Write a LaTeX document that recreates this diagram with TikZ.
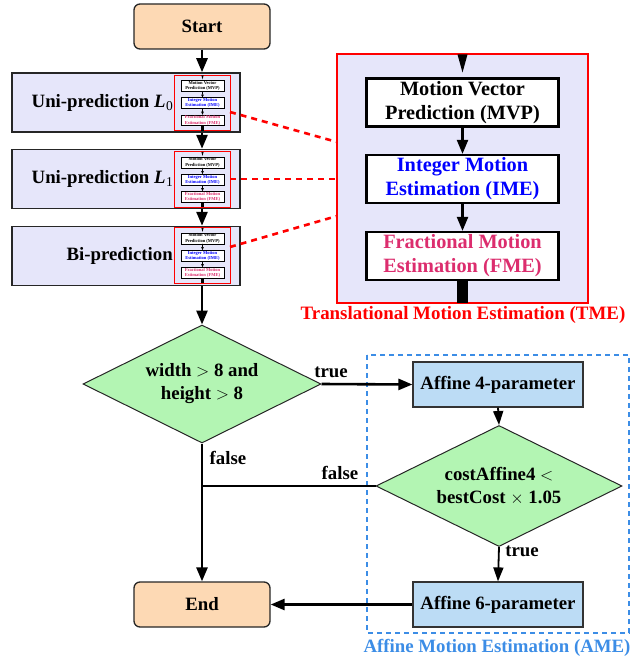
\documentclass[tikz,border=0pt]{standalone}
\usepackage{fontspec}
\setmainfont{Liberation Serif}
\usetikzlibrary{arrows.meta,shapes.geometric,calc}

\definecolor{lav}{HTML}{E6E6FA}
\definecolor{peach}{HTML}{FDD9B4}
\definecolor{mint}{HTML}{B3F5B3}
\definecolor{skyfill}{HTML}{BCDCF5}
\definecolor{amecol}{HTML}{3C8DE6}
\definecolor{imeblue}{HTML}{0000FF}
\definecolor{fmepink}{HTML}{DC2D6E}

\tikzset{
  txt/.style={font=\fontsize{18.8}{23}\selectfont\bfseries, align=center},
  terminal/.style={txt, draw=black!85, line width=1.3pt, fill=peach, rounded corners=6pt,
    minimum width=136pt, minimum height=45pt, inner sep=0pt},
  predbox/.style={draw=black!85, line width=1.5pt, fill=lav, minimum width=228pt,
    minimum height=59pt, inner sep=0pt},
  affbox/.style={txt, draw=black!80, line width=1.2pt, fill=skyfill,
    minimum width=170pt, minimum height=45pt, inner sep=0pt},
  decision/.style={txt, diamond, draw=black!85, line width=1pt, fill=mint, inner sep=0pt,
    shape aspect=2},
  mainarrow/.style={line width=2.6pt, -{Triangle[length=14pt,width=11pt]}},
  mainline/.style={line width=2.6pt},
  thinarrow/.style={line width=1.8pt, -{Triangle[length=14pt,width=10pt]}},
  tmeframe/.style={draw=red, fill=lav, inner sep=0pt},
  tmebox/.style={draw=black, fill=white, minimum width=192pt, minimum height=48pt,
    inner sep=0pt, align=center, font=\fontsize{20.3}{24}\selectfont\bfseries},
  zoomlink/.style={draw=red, line width=2.6pt, dash pattern=on 6pt off 5pt},
}

% Translational motion estimation panel, centred at the local origin.
% #1 name prefix, #2 box line width, #3 frame line width, #4 arrow line width, #5 tip scale
\newcommand\tmepanel[5]{%
  \node[tmeframe, line width=#3, minimum width=251pt, minimum height=249pt] (#1frame) at (0,0) {};
  \fill (-5,-124) -- (5,-124) -- (0,-106) -- cycle;
  \node[tmebox, line width=#2] (#1mvp) at (0,-76) {Motion Vector\\Prediction (MVP)};
  \node[tmebox, line width=#2, text=imeblue] (#1ime) at (0,0.5) {Integer Motion\\Estimation (IME)};
  \node[tmebox, line width=#2, text=fmepink] (#1fme) at (0,77.5) {Fractional Motion\\Estimation (FME)};
  \draw[line width=#4, -{Triangle[length=14pt,width=11pt,scale=#5]}] (#1mvp) -- (#1ime);
  \draw[line width=#4, -{Triangle[length=14pt,width=11pt,scale=#5]}] (#1ime) -- (#1fme);
  \fill (-5.5,101.5) rectangle (5.5,124.5);
}

\begin{document}
\begin{tikzpicture}[x=1pt, y=-1pt]
\useasboundingbox (0,0) rectangle (631,661);

% terminals
\node[terminal] (start) at (202,26.5) {Start};
\node[terminal] (end) at (202,604.5) {End};

% prediction stages
\node[predbox] (l0) at (126,102.5) {};
\node[predbox] (l1) at (126,179) {};
\node[predbox] (bi) at (126,256) {};
\node[txt, anchor=east, inner sep=0pt] (l0txt) at (173,102.5)
  {Uni-prediction {\itshape L}\kern0.5pt\raisebox{-0.35ex}{\fontsize{13.5}{14}\selectfont\mdseries 0}};
\node[txt, anchor=east, inner sep=0pt] (l1txt) at (173,179)
  {Uni-prediction {\itshape L}\kern0.5pt\raisebox{-0.35ex}{\fontsize{13.5}{14}\selectfont\mdseries 1}};
\node[txt, anchor=east, inner sep=0pt] (bitxt) at (173,256) {Bi-prediction};

% small copies of the TME panel inside each stage
\begin{scope}[shift={(202.5,103)}, scale=0.223, transform shape]
  \tmepanel{a}{0.6pt}{1pt}{0.6pt}{0.223}
\end{scope}
\begin{scope}[shift={(202.5,179.5)}, scale=0.223, transform shape]
  \tmepanel{b}{0.6pt}{1pt}{0.6pt}{0.223}
\end{scope}
\begin{scope}[shift={(202.5,255.5)}, scale=0.223, transform shape]
  \tmepanel{c}{0.6pt}{1pt}{0.6pt}{0.223}
\end{scope}

% enlarged TME panel
\begin{scope}[shift={(462.5,178.5)}]
  \tmepanel{t}{2.2pt}{1.5pt}{2.2pt}{1}
\end{scope}
\node[txt, text=red, font=\fontsize{18.9}{23}\selectfont\bfseries] (tmelabel) at (463,315)
  {Translational Motion Estimation (TME)};

% zoom links
\coordinate (za) at (230,112);  \coordinate (zta) at (337,142);
\coordinate (zb) at (230,179);  \coordinate (ztb) at (337,179);
\coordinate (zc) at (230,247);  \coordinate (ztc) at (337,216);
\draw[zoomlink] (za) -- (zta);
\draw[zoomlink] (zb) -- (ztb);
\draw[zoomlink] (zc) -- (ztc);

% decisions and affine stages
\node[decision, minimum width=238pt, minimum height=118pt] (d1) at (202,384)
  {width \(>\) 8 and\\height \(>\) 8};
\draw[amecol, line width=1.8pt, dash pattern=on 5pt off 4pt] (367,355) rectangle (629,633);
\node[txt, text=amecol] (amelabel) at (497,648) {Affine Motion Estimation (AME)};
\node[affbox] (a4) at (498,384.5) {Affine 4-parameter};
\node[decision, minimum width=246pt, minimum height=121pt] (d2) at (499,486)
  {costAffine4 \(<\)\\bestCost \(\times\) 1.05};
\node[affbox] (a6) at (498,604.5) {Affine 6-parameter};

% main flow
\draw[mainarrow] (start.south) -- (start.south |- l0.north);
\draw[mainarrow] (start.south |- l0.south) -- (start.south |- l1.north);
\draw[mainarrow] (start.south |- l1.south) -- (start.south |- bi.north);
\draw[mainarrow] (start.south |- bi.south) -- (d1.north);
\draw[mainarrow] (d1.south) -- (end.north);
\draw[mainarrow] (d1.east) -- (a4.west);
\draw[thinarrow] (a4.south) -- (d2.north);
\draw[thinarrow] (d2.south) -- (a6.north);
\draw[mainline] (d2.west) -- (d2.west -| d1.south);
\draw[mainarrow] (a6.west) -- (end.east);

% branch labels
\node[txt] (t1) at (331,372) {true};
\node[txt] (f1) at (228,458) {false};
\node[txt] (f2) at (340,473) {false};
\node[txt] (t2) at (522,551) {true};
\end{tikzpicture}
\end{document}
